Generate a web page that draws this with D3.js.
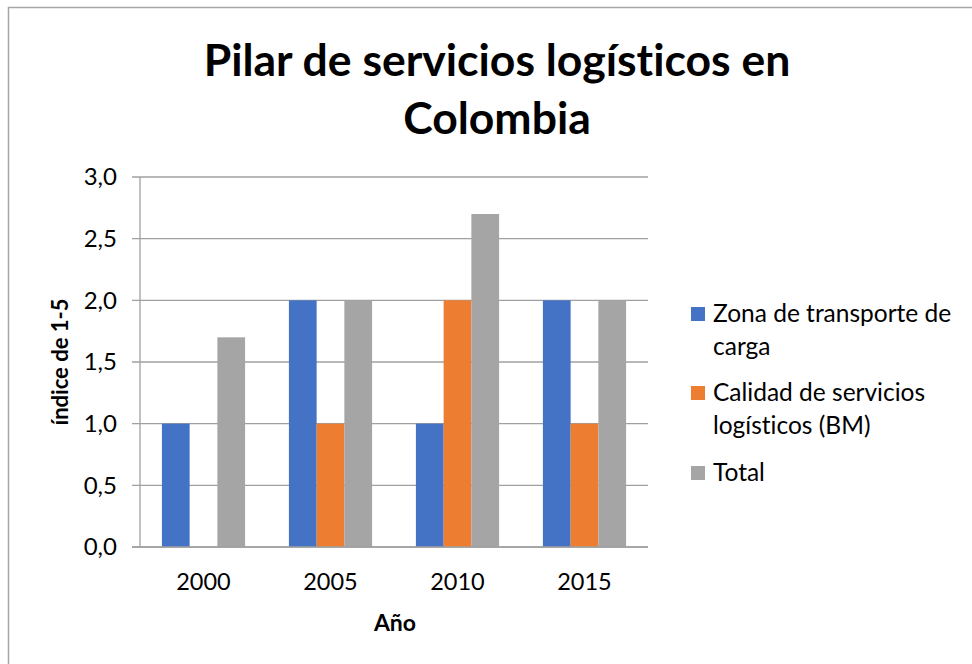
<!DOCTYPE html>
<html>
<head>
<meta charset="utf-8">
<script src="https://cdn.jsdelivr.net/npm/d3@7"></script>
<style>
  body { margin: 0; background: #fff; }
  text { font-family: Lato, "Open Sans", sans-serif; fill: #000; font-variant-ligatures: none; font-feature-settings: "liga" 0, "clig" 0; }
</style>
</head>
<body>
<div id="chart"></div>
<script>
// data
var years = ['2000', '2005', '2010', '2015'];
var seriesNames = ['Zona de transporte de carga', 'Calidad de servicios logísticos (BM)', 'Total'];
var zona = [1, 2, 1, 2];
var calidad = [0, 1, 2, 1];
var total = [1.7, 2, 2.7, 2];
var yTicks = [0, 0.5, 1, 1.5, 2, 2.5, 3];
var colors = ['#4472C4', '#ED7D31', '#A5A5A5'];

var svgWidth = 972, svgHeight = 664;
var margin = { top: 177, left: 140, right: 324, bottom: 117 };
var width = svgWidth - margin.left - margin.right;
var height = svgHeight - margin.top - margin.bottom;

var svg = d3.select('#chart').append('svg')
    .attr('width', svgWidth)
    .attr('height', svgHeight);

// outer frame
svg.append('rect')
    .attr('x', 8.5).attr('y', 7.5)
    .attr('width', 980).attr('height', 680)
    .attr('fill', 'none')
    .attr('stroke', '#a6a6a6')
    .attr('stroke-width', 1.5);

var chartGroup = svg.append('g')
    .attr('transform', `translate(${margin.left}, ${margin.top})`);

var x0 = d3.scaleBand().domain(years).range([0, width]).paddingInner(0.345).paddingOuter(0.1725);
var x1 = d3.scaleBand().domain(d3.range(3)).range([0, x0.bandwidth()]);
var y = d3.scaleLinear().domain([0, 3]).range([height, 0]);

// gridlines
chartGroup.append('g')
    .selectAll('line')
    .data(yTicks)
    .enter()
    .append('line')
    .attr('x1', -8).attr('x2', width)
    .attr('y1', d => y(d)).attr('y2', d => y(d))
    .attr('stroke', '#a0a0a0')
    .attr('stroke-width', 1.3);

// y axis line
chartGroup.append('line')
    .attr('x1', 0).attr('x2', 0)
    .attr('y1', 0).attr('y2', height)
    .attr('stroke', '#a0a0a0')
    .attr('stroke-width', 1.3);

var leftAxis = d3.axisLeft(y)
    .tickValues(yTicks)
    .tickSize(0)
    .tickPadding(23)
    .tickFormat(d => d3.format('.1f')(d).replace('.', ','));

chartGroup.append('g')
    .call(leftAxis)
    .call(g => g.select('.domain').remove())
    .selectAll('text')
    .style('font-size', '24px')
    .style('font-family', 'Lato, "Open Sans", sans-serif');

var bottomAxis = d3.axisBottom(x0).tickSize(0).tickPadding(26);
chartGroup.append('g')
    .attr('transform', `translate(0, ${height})`)
    .call(bottomAxis)
    .call(g => g.select('.domain').remove())
    .selectAll('text')
    .style('font-size', '23.5px')
    .style('font-family', 'Lato, "Open Sans", sans-serif');

var rows = years.map((yr, i) => ({ year: yr, values: [zona[i], calidad[i], total[i]] }));

chartGroup.selectAll('.group')
    .data(rows)
    .enter()
    .append('g')
    .attr('transform', d => `translate(${x0(d.year)}, 0)`)
    .selectAll('rect')
    .data(d => d.values.map((v, k) => ({ k: k, v: v })))
    .enter()
    .append('rect')
    .attr('x', d => x1(d.k))
    .attr('width', x1.bandwidth())
    .attr('y', d => y(d.v))
    .attr('height', d => height - y(d.v))
    .attr('fill', d => colors[d.k]);

// redraw baseline over bars
chartGroup.append('line')
    .attr('x1', -8).attr('x2', width)
    .attr('y1', height).attr('y2', height)
    .attr('stroke', '#a0a0a0')
    .attr('stroke-width', 1.3);

// title
var title = svg.append('text')
    .attr('text-anchor', 'middle')
    .style('font-size', '44.5px')
    .style('font-weight', 'bold');
title.append('tspan').attr('x', 497).attr('y', 76).text('Pilar de servicios logísticos en');
title.append('tspan').attr('x', 497).attr('y', 134).text('Colombia');

// axis titles
svg.append('text')
    .attr('transform', 'translate(68, 362) rotate(-90)')
    .attr('text-anchor', 'middle')
    .style('font-size', '22px')
    .style('font-weight', 'bold')
    .text('índice de 1-5');

svg.append('text')
    .attr('x', 395).attr('y', 631)
    .attr('text-anchor', 'middle')
    .style('font-size', '23px')
    .style('font-weight', 'bold')
    .text('Año');

// legend
var legendLines = [['Zona de transporte de', 'carga'], ['Calidad de servicios', 'logísticos (BM)'], ['Total']];
var legendY = [314, 393, 473];
var legend = svg.append('g');
legendLines.forEach(function(lines, i) {
    legend.append('rect')
        .attr('x', 691).attr('y', legendY[i] - 7)
        .attr('width', 14).attr('height', 14)
        .attr('fill', colors[i]);
    var t = legend.append('text')
        .style('font-size', '24.5px');
    lines.forEach(function(l, j) {
        t.append('tspan')
            .attr('x', 713)
            .attr('y', legendY[i] + 8 + j * 33)
            .text(l);
    });
});
</script>
</body>
</html>
